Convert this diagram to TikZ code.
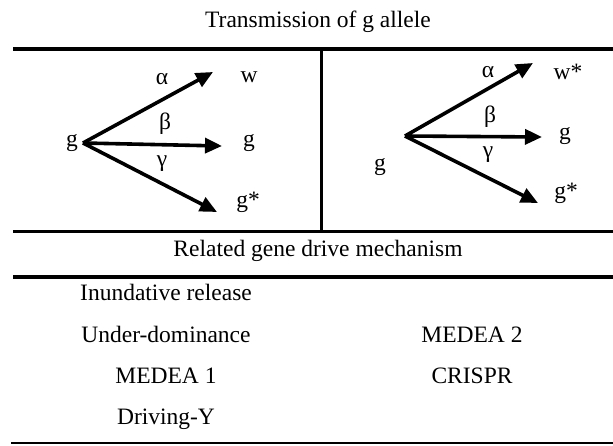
\documentclass[tikz,border=0pt]{standalone}
\usepackage{fontspec}
\setmainfont{Liberation Serif}
\usetikzlibrary{arrows.meta}
\begin{document}
\begin{tikzpicture}[x=1pt,y=-1pt,
  txt/.style={inner sep=0pt,font=\fontsize{23.5}{28}\selectfont},
  rule/.style={line width=#1},
  flow/.style={line width=3.6pt,-{Triangle[length=17pt,width=15pt]}}]
\useasboundingbox (0,0) rectangle (613,446);

% table rules
\draw[rule=4pt] (13,49) -- (613,49);
\draw[rule=3pt] (321,49) -- (321,232);
\draw[rule=3pt] (13,232) -- (613,232);
\draw[rule=4pt] (13,277) -- (613,277);
\draw[rule=2pt] (11,443) -- (613,443);

% headings
\node[txt,anchor=base] (title) at (318,28) {Transmission of g allele};
\node[txt,anchor=base] (mech) at (318,257) {Related gene drive mechanism};

% left panel
\node[txt] (gL) at (72,143) {g};
\coordinate (oL) at (83,143);
\coordinate (aL) at (213,72);
\coordinate (bL) at (222,146);
\coordinate (cL) at (217,212);
\draw[flow] (oL) -- (aL);
\draw[flow] (oL) -- (bL);
\draw[flow] (oL) -- (cL);
\node[txt] (alphaL) at (162,79) {α};
\node[txt] (betaL) at (165,124) {β};
\node[txt] (gammaL) at (162,164) {γ};
\node[txt] (wL) at (249,77) {w};
\node[txt] (ggL) at (249,143) {g};
\node[txt] (gsL) at (248,202) {g*};

% right panel
\node[txt] (gR) at (380,167) {g};
\coordinate (oR) at (405,136);
\coordinate (aR) at (533,63);
\coordinate (bR) at (542,137);
\coordinate (cR) at (538,203);
\draw[flow] (oR) -- (aR);
\draw[flow] (oR) -- (bR);
\draw[flow] (oR) -- (cR);
\node[txt] (alphaR) at (488,72) {α};
\node[txt] (betaR) at (490,117) {β};
\node[txt] (gammaR) at (488,155) {γ};
\node[txt] (wR) at (568,72) {w*};
\node[txt] (ggR) at (565,136) {g};
\node[txt] (gsR) at (566,193) {g*};

% mechanisms
\node[txt,anchor=base] (m1) at (166,301) {Inundative release};
\node[txt,anchor=base] (m2) at (166,342) {Under-dominance};
\node[txt,anchor=base] (m3) at (166,383) {MEDEA 1};
\node[txt,anchor=base] (m4) at (166,424) {Driving-Y};
\node[txt,anchor=base] (m5) at (472,342) {MEDEA 2};
\node[txt,anchor=base] (m6) at (472,383) {CRISPR};
\end{tikzpicture}
\end{document}
